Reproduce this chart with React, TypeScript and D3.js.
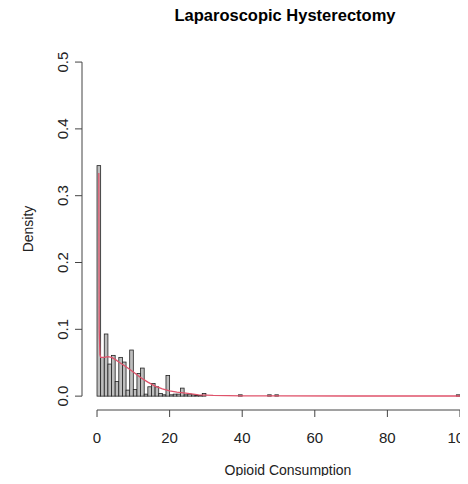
import React from 'react';
import * as d3 from 'd3';

// histogram: left edge of each 1-unit bin and its density
const binLeft = [
  0, 1, 2, 3, 4, 5, 6, 7, 8, 9, 10, 11, 12, 13, 14, 15, 16, 17, 18, 19,
  20, 21, 22, 23, 24, 25, 26, 27, 28, 29, 39, 47, 49, 99,
];
const binDensity = [
  0.345, 0.058, 0.093, 0.048, 0.061, 0.022, 0.058, 0.051, 0.009, 0.069,
  0.010, 0.034, 0.042, 0.003, 0.014, 0.019, 0.014, 0.004, 0.002, 0.031,
  0.002, 0.003, 0.003, 0.012, 0.002, 0.003, 0.002, 0.001, 0.001, 0.004,
  0.002, 0.002, 0.002, 0.002,
];

// density curve
const curveX = [0.5, 0.6, 0.8, 1, 2, 3, 4, 5, 6, 8, 10, 12, 14, 16, 18, 20, 22, 25, 28, 32, 40, 50, 70, 100];
const curveY = [
  0.334, 0.1, 0.062, 0.058, 0.058, 0.059, 0.058, 0.055, 0.051, 0.044, 0.036,
  0.028, 0.021, 0.015, 0.011, 0.008, 0.006, 0.004, 0.002, 0.001, 0.0005,
  0.0003, 0.0002, 0.0002,
];

const xTicks = [0, 20, 40, 60, 80, 100];
const yTicks = [0, 0.1, 0.2, 0.3, 0.4, 0.5];

const W = 468;
const H = 484;
const font = '"Liberation Sans", Arial, sans-serif';

export default function App() {
  // plot region (R usr extends 4% beyond the data limits)
  const x = d3.scaleLinear().domain([-4, 104]).range([82.5, 474.5]);
  const y = d3.scaleLinear().domain([-0.02, 0.52]).range([409.5, 48.7]);

  const line = d3
    .line<number>()
    .x((_, i) => x(curveX[i]))
    .y((d) => y(d));

  const axisY = 410;
  const axisX = 82;

  return (
    <div style={{ margin: -8 }}>
      <svg width={W} height={H} style={{ display: 'block', background: '#fff' }} fontFamily={font}>
        <text x={285} y={21} textAnchor="middle" fontSize={16.5} fontWeight="bold" fill="#000">
          Laparoscopic Hysterectomy
        </text>

        {binLeft.map((b, i) => (
          <rect
            key={i}
            x={x(b)}
            y={y(binDensity[i])}
            width={x(b + 1) - x(b)}
            height={y(0) - y(binDensity[i])}
            fill="#bebebe"
            stroke="#222"
            strokeWidth={0.8}
          />
        ))}

        <path d={line(curveY) ?? ''} fill="none" stroke="#df536b" strokeWidth={1.3} />

        {/* y axis */}
        <line x1={axisX} x2={axisX} y1={y(0)} y2={y(0.5)} stroke="#444" />
        {yTicks.map((t) => (
          <g key={t}>
            <line x1={axisX - 7} x2={axisX} y1={y(t)} y2={y(t)} stroke="#444" />
            <text
              transform={`translate(${axisX - 14},${y(t)}) rotate(-90)`}
              textAnchor="middle"
              fontSize={15}
              fill="#222"
            >
              {t.toFixed(1)}
            </text>
          </g>
        ))}
        <text transform={`translate(33,229) rotate(-90)`} textAnchor="middle" fontSize={14} fill="#222">
          Density
        </text>

        {/* x axis */}
        <line x1={x(0)} x2={x(100)} y1={axisY} y2={axisY} stroke="#444" />
        {xTicks.map((t) => (
          <g key={t}>
            <line x1={x(t)} x2={x(t)} y1={axisY} y2={axisY + 7} stroke="#444" />
            <text x={x(t)} y={axisY + 33} textAnchor="middle" fontSize={15} fill="#222">
              {t}
            </text>
          </g>
        ))}
        <text x={288} y={475} textAnchor="middle" fontSize={14} fill="#222">
          Opioid Consumption
        </text>
      </svg>
    </div>
  );
}
